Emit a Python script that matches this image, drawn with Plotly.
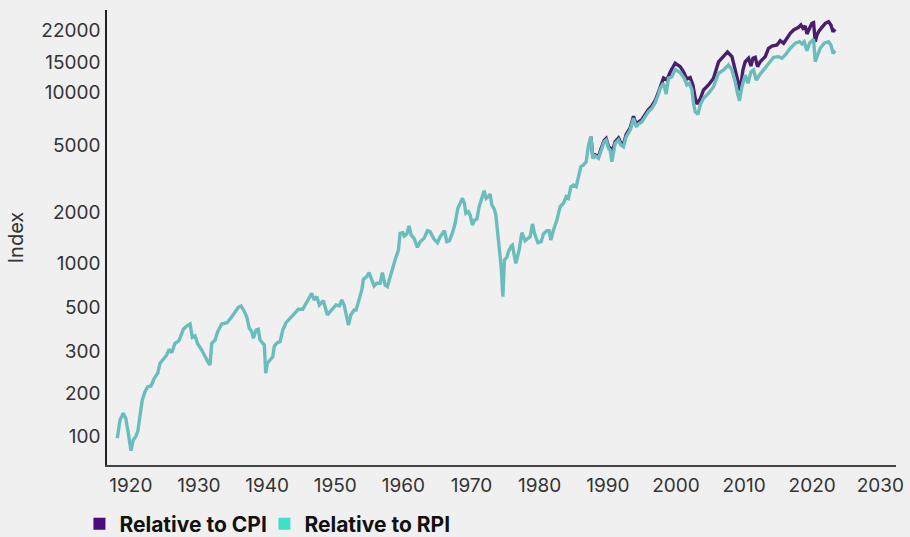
import plotly.graph_objects as go

# ---- data ----
rpi_years = [1918.01, 1918.41, 1918.89, 1919.25, 1919.63, 1920.02, 1920.36, 1920.71, 1921.01, 1921.35,
             1921.68, 1922.08, 1922.48, 1922.96, 1923.44, 1923.94, 1924.28, 1924.77, 1925.27, 1925.60,
             1926.00, 1926.48, 1927.07, 1927.70, 1928.20, 1928.69, 1929.02, 1929.42, 1929.82, 1930.40,
             1930.89, 1931.29, 1931.62, 1931.87, 1932.36, 1932.75, 1933.34, 1934.12, 1934.81, 1935.29,
             1935.78, 1936.17, 1936.61, 1937.01, 1937.39, 1937.75, 1937.98, 1938.38, 1938.71, 1938.96,
             1939.36, 1939.59, 1939.80, 1940.04, 1940.43, 1940.83, 1941.06, 1941.50, 1941.90, 1942.30,
             1942.78, 1943.37, 1943.96, 1944.59, 1945.23, 1945.72, 1946.20, 1946.55, 1946.89, 1947.29,
             1947.67, 1948.26, 1948.84, 1949.31, 1950.12, 1950.61, 1950.96, 1951.30, 1951.69, 1951.93,
             1952.28, 1952.76, 1953.06, 1953.40, 1953.90, 1954.13, 1954.63, 1954.97, 1955.36, 1955.70,
             1956.10, 1956.58, 1956.92, 1957.32, 1957.65, 1958.05, 1958.45, 1958.78, 1959.27, 1959.52,
             1959.91, 1960.11, 1960.50, 1960.84, 1961.13, 1961.57, 1962.06, 1962.46, 1963.04, 1963.53,
             1963.92, 1964.51, 1965.00, 1965.39, 1966.02, 1966.38, 1966.76, 1967.26, 1967.59, 1967.99,
             1968.33, 1968.67, 1968.96, 1969.16, 1969.55, 1969.80, 1970.13, 1970.43, 1970.78, 1971.12,
             1971.51, 1971.85, 1972.15, 1972.48, 1972.73, 1972.98, 1973.36, 1973.57, 1973.95, 1974.35,
             1974.60, 1974.83, 1975.18, 1975.42, 1975.82, 1976.01, 1976.26, 1976.51, 1976.99, 1977.39,
             1977.87, 1978.27, 1978.61, 1978.94, 1979.24, 1979.74, 1980.22, 1980.56, 1981.06, 1981.39,
             1981.64, 1982.03, 1982.53, 1983.01, 1983.49, 1983.89, 1984.23, 1984.58, 1984.96, 1985.36,
             1985.70, 1986.05, 1986.43, 1986.83, 1987.17, 1987.52, 1987.81, 1988.15, 1988.63, 1988.99,
             1989.47, 1989.76, 1990.10, 1990.35, 1990.60, 1991.09, 1991.57, 1991.92, 1992.30, 1992.70,
             1993.29, 1993.77, 1994.17, 1994.51, 1995.01, 1995.49, 1995.97, 1996.47, 1996.96, 1997.30,
             1997.69, 1998.18, 1998.57, 1998.91, 1999.41, 1999.89, 2000.63, 2001.22, 2001.61, 2001.99,
             2002.35, 2002.58, 2002.83, 2003.23, 2003.56, 2004.05, 2004.78, 2005.52, 2006.25, 2006.99,
             2007.72, 2008.22, 2008.70, 2009.04, 2009.33, 2009.69, 2010.17, 2010.57, 2011.01, 2011.39,
             2011.79, 2012.27, 2012.86, 2013.59, 2014.33, 2015.06, 2015.56, 2016.05, 2016.78, 2017.51,
             2018.14, 2018.50, 2018.83, 2019.23, 2019.61, 2020.20, 2020.45, 2020.70, 2021.18, 2021.77,
             2022.40, 2022.75, 2023.05, 2023.38]
rpi_values = [94.4, 120.8, 132.2, 123.5, 100.9, 79.9, 92.2, 96.4, 103.2, 132.2,
              158.1, 176.8, 189.1, 190.9, 211.7, 226.5, 259.2, 273.5, 289.7, 312.9,
              298.8, 339.2, 351.3, 409.6, 428.2, 439.9, 367.8, 374.3, 336.0, 309.9,
              280.9, 264.8, 253.3, 339.2, 354.6, 396.5, 439.9, 447.7, 485.3, 519.0,
              550.7, 560.4, 526.1, 485.3, 415.1, 396.5, 362.9, 405.7, 409.6, 354.6,
              341.9, 331.5, 226.5, 259.2, 270.9, 283.1, 327.0, 341.9, 346.6, 405.7,
              447.7, 474.9, 507.9, 536.0, 536.0, 581.2, 641.2, 665.0, 607.6, 635.2,
              568.1, 601.9, 496.5, 524.0, 568.1, 560.4, 607.6, 568.1, 485.3, 433.9,
              496.5, 531.0, 531.0, 593.9, 695.2, 803.0, 831.6, 877.6, 795.6, 733.6,
              760.8, 760.8, 877.6, 743.5, 726.7, 831.6, 973.4, 1041, 1191, 1492,
              1504, 1439, 1478, 1646, 1458, 1394, 1235, 1332, 1394, 1545,
              1524, 1376, 1314, 1425, 1545, 1332, 1350, 1524, 1707, 2089,
              2234, 2389, 2234, 1953, 1995, 1908, 1668, 1784, 1802, 2134,
              2389, 2647, 2389, 2442, 2533, 2184, 2061, 1908, 1363, 951,
              635.2, 1041, 1080, 1164, 1257, 1274, 1114, 996, 1191, 1504,
              1350, 1394, 1425, 1691, 1492, 1314, 1332, 1478, 1545, 1545,
              1363, 1560, 1784, 2134, 2234, 2442, 2389, 2794, 2858, 2794,
              3128, 3657, 3742, 3912, 4898, 5479, 4096, 4225, 4096, 4579,
              5121, 5240, 4686, 4579, 3912, 5012, 5240, 4898, 4787, 5479,
              5996, 7019, 6268, 6500, 6704, 7171, 7671, 8030, 8660, 9387,
              10510, 11240, 9734, 12030, 12290, 13570, 12970, 12030, 10990, 11240,
              10270, 8590, 7671, 7405, 8395, 9189, 9826, 10740, 12870, 13450,
              14390, 13450, 11490, 9826, 8893, 10740, 12570, 11240, 13140, 13450,
              11750, 12570, 13450, 14840, 15960, 16090, 15740, 16460, 18010, 19270,
              19690, 19090, 19690, 17440, 19270, 20330, 15040, 16090, 18010, 19270,
              19690, 18830, 16840, 17440]

cpi_years = [1987.52, 1987.81, 1988.15, 1988.63, 1988.99, 1989.47, 1989.76, 1990.10, 1990.35, 1990.60,
             1991.09, 1991.57, 1991.92, 1992.30, 1992.70, 1993.29, 1993.77, 1994.17, 1994.51, 1995.01,
             1995.49, 1995.97, 1996.47, 1996.96, 1997.30, 1997.69, 1998.18, 1998.68, 1999.17, 1999.89,
             2000.63, 2001.11, 2001.61, 2002.09, 2002.49, 2002.83, 2003.08, 2003.56, 2004.05, 2004.78,
             2005.52, 2006.25, 2006.99, 2007.57, 2008.22, 2008.70, 2009.19, 2009.44, 2009.83, 2010.17,
             2010.66, 2011.01, 2011.30, 2011.64, 2011.98, 2012.37, 2013.11, 2013.59, 2014.09, 2014.83,
             2015.31, 2015.80, 2016.30, 2016.78, 2017.27, 2018.00, 2018.35, 2018.65, 2018.98, 2019.23,
             2019.61, 2019.96, 2020.20, 2020.45, 2020.70, 2020.94, 2021.43, 2021.92, 2022.40, 2022.75,
             2023.05, 2023.38]
cpi_values = [5479, 4140, 4281, 4168, 4642, 5204, 5346, 4800, 4704, 4399,
              5134, 5383, 5032, 4932, 5642, 6160, 7209, 6455, 6677, 6905,
              7386, 7902, 8283, 8918, 9670, 10740, 12080, 11750, 13090, 14720,
              14060, 13140, 11910, 12150, 10990, 9189, 8509, 9101, 10270, 10990,
              12030, 14980, 16020, 17140, 16090, 13450, 10740, 10180, 13450, 15040,
              15740, 14190, 15740, 15960, 14060, 15040, 16090, 18010, 18580, 18830,
              19950, 19270, 20610, 22040, 23050, 23890, 24650, 23580, 24320, 21830,
              23580, 25220, 25430, 19690, 21540, 22520, 23890, 25220, 25770, 24650,
              22520, 23270]

x_ticks = [1920, 1930, 1940, 1950, 1960, 1970, 1980, 1990, 2000, 2010, 2020, 2030]
y_tick_labels = ["100", "200", "300", "500", "1000", "2000", "5000", "10000", "15000", "22000"]
# positions at which the reference draws its y labels
y_tick_positions = [97.3, 173.8, 305.5, 553, 1000, 1986, 4898, 9931, 14980, 23050]

series_names = ["Relative to CPI", "Relative to RPI"]
line_colors = ["#4a1d6e", "#6bbdbd"]
legend_colors = ["#4b0a7d", "#40dfc9"]

FONT = "Inter, Lato, sans-serif"

fig = go.Figure()
fig.add_trace(go.Scatter(x=cpi_years, y=cpi_values, mode="lines",
                         line=dict(color=line_colors[0], width=3.4), showlegend=False,
                         hoverinfo="skip"))
fig.add_trace(go.Scatter(x=rpi_years, y=rpi_values, mode="lines",
                         line=dict(color=line_colors[1], width=3.4), showlegend=False,
                         hoverinfo="skip"))
for name, col in zip(series_names, legend_colors):
    fig.add_trace(go.Scatter(x=[None], y=[None], mode="markers", name=name,
                             marker=dict(symbol="square", size=12, color=col)))

fig.update_layout(
    width=910, height=537,
    margin=dict(l=107, r=14, t=10, b=72),
    paper_bgcolor="#f0f0f0", plot_bgcolor="#f0f0f0",
    font=dict(family=FONT, color="#333333", size=19),
    showlegend=True,
    legend=dict(orientation="h", xref="container", yref="container",
                x=0.0873, xanchor="left", y=0.024, yanchor="middle",
                entrywidth=140, entrywidthmode="pixels",
                font=dict(family=FONT, size=21, color="#111111", weight="bold"),
                bgcolor="rgba(0,0,0,0)", itemclick=False, itemdoubleclick=False),
    xaxis=dict(range=[1916.5, 2032.3], tickvals=x_ticks, showgrid=False, zeroline=False,
               showline=True, linecolor="#444444", linewidth=1.5,
               ticks="outside", ticklen=2, tickcolor="rgba(0,0,0,0)",
               tickfont=dict(size=19, color="#333333"), automargin=False),
    yaxis=dict(type="log", range=[1.8187, 4.4795], tickvals=y_tick_positions,
               ticktext=y_tick_labels, showgrid=False, zeroline=False,
               showline=True, linecolor="#222222", linewidth=1.5,
               ticks="outside", ticklen=1, tickcolor="rgba(0,0,0,0)",
               tickfont=dict(size=19, color="#333333"), automargin=False,
               title=dict(text="Index", font=dict(size=20, color="#333333"), standoff=12)),
)

fig.write_html("out.html", config={"displayModeBar": False},
               post_script="document.body.style.margin='0';document.body.style.background='#f0f0f0';")
